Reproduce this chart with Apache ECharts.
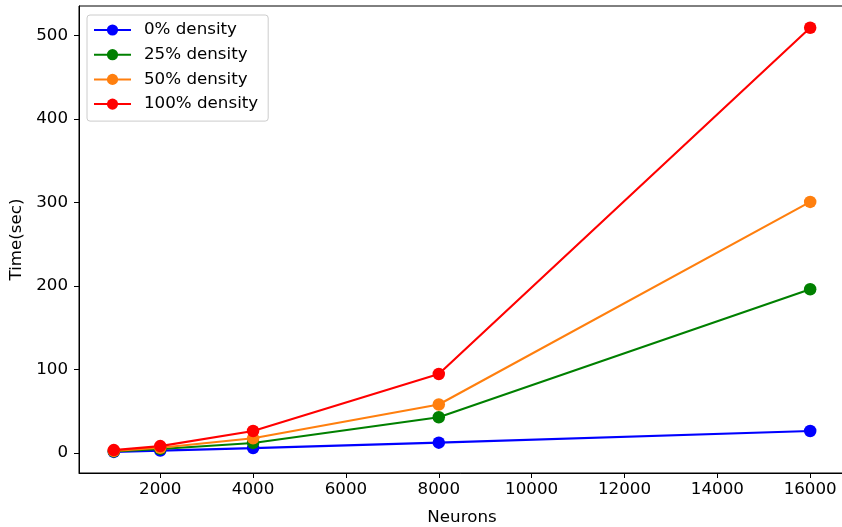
<!DOCTYPE html>
<html>
<head>
<meta charset="utf-8">
<script src="https://cdn.jsdelivr.net/npm/echarts@6/dist/echarts.min.js"></script>
<style>html,body{margin:0;padding:0;background:#fff;overflow:hidden}#c{width:842px;height:527px}</style>
</head>
<body>
<div id="c"></div>
<script>
const neurons = [1000, 2000, 4000, 8000, 16000];
const density0 = [1.2, 2.8, 5.8, 12.3, 26.3];
const density25 = [1.8, 4.8, 12.0, 42.7, 196.0];
const density50 = [2.4, 6.2, 17.5, 58.0, 300.5];
const density100 = [3.4, 8.2, 26.3, 94.5, 509.0];
const xTicks = [2000, 4000, 6000, 8000, 10000, 12000, 14000, 16000];
const yTicks = [0, 100, 200, 300, 400, 500];
const seriesNames = ['0% density', '25% density', '50% density', '100% density'];
const colors = ['#0000ff', '#008000', '#ff7f0e', '#ff0000'];
const allData = [density0, density25, density50, density100];

const font = 'DejaVu Sans';
const fs = 16.7;
const chart = echarts.init(document.getElementById('c'), null, {renderer: 'canvas'});
chart.setOption({
  animation: false,
  backgroundColor: '#fff',
  textStyle: {fontFamily: font},
  grid: {left: 79, right: -3, top: 6, bottom: 54, show: true, borderColor: '#000', borderWidth: 1, containLabel: false, outerBoundsMode: 'none'},
  legend: {
    orient: 'vertical', left: 87, top: 15,
    data: seriesNames,
    itemWidth: 37, itemHeight: 14, itemGap: 4.7,
    padding: [5, 10, 7, 6],
    backgroundColor: '#fff', borderColor: '#cccccc', borderWidth: 1, borderRadius: 3,
    textStyle: {fontFamily: font, fontSize: fs, lineHeight: 20, color: '#000', padding: [0, 0, 0, 8]}
  },
  xAxis: {
    type: 'value', min: 250, max: 16750,
    name: 'Neurons', nameLocation: 'middle', nameGap: 36,
    nameTextStyle: {fontFamily: font, fontSize: fs, color: '#000'},
    axisLine: {show: true, onZero: false, lineStyle: {color: '#000', width: 1}},
    axisTick: {show: true, inside: false, length: 5, lineStyle: {color: '#000'}, customValues: xTicks},
    axisLabel: {color: '#000', fontFamily: font, fontSize: fs, margin: 8, customValues: xTicks, formatter: v => String(v)},
    splitLine: {show: false}
  },
  yAxis: {
    type: 'value', min: -24, max: 535,
    name: 'Time(sec)', nameLocation: 'middle', nameGap: 53,
    nameTextStyle: {fontFamily: font, fontSize: fs, color: '#000'},
    axisLine: {show: true, onZero: false, lineStyle: {color: '#000', width: 1}},
    axisTick: {show: true, inside: false, length: 5, lineStyle: {color: '#000'}, customValues: yTicks},
    axisLabel: {color: '#000', fontFamily: font, fontSize: fs, margin: 11, customValues: yTicks, formatter: v => String(v)},
    splitLine: {show: false}
  },
  series: seriesNames.map((n, i) => ({
    name: n, type: 'line',
    data: neurons.map((x, j) => [x, allData[i][j]]),
    symbol: 'circle', symbolSize: 12.5, showSymbol: true,
    lineStyle: {color: colors[i], width: 2.1},
    itemStyle: {color: colors[i]},
    emphasis: {disabled: true}
  }))
});
</script>
</body>
</html>
